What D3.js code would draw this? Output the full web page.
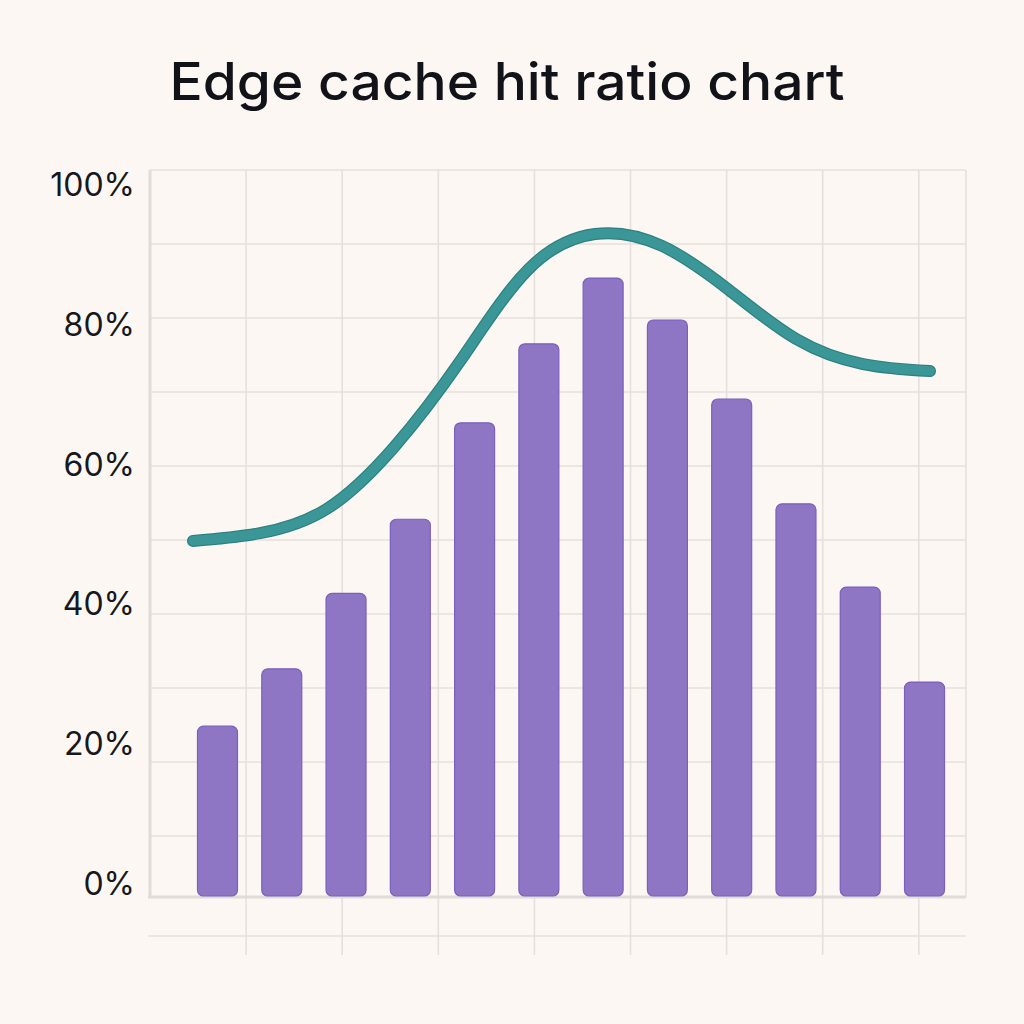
<!DOCTYPE html>
<html>
<head>
<meta charset="utf-8">
<script src="https://cdn.jsdelivr.net/npm/d3@7"></script>
<style>
  body { margin: 0; background: #fcf7f3; }
  svg { display: block; }
</style>
</head>
<body>
<script>
// chart data
var title = "Edge cache hit ratio chart";
var periods = ["P1", "P2", "P3", "P4", "P5", "P6", "P7", "P8", "P9", "P10", "P11", "P12"];
var barValues = [24.3, 32.5, 43.3, 53.9, 67.7, 79.0, 88.4, 82.4, 71.1, 56.1, 44.2, 30.6];
var lineValues = [50.8, 51.9, 55.4, 64.2, 76.7, 89.6, 94.7, 93.0, 86.7, 79.7, 76.1, 75.1];
var yTicks = [0, 20, 40, 60, 80, 100];

var svgWidth = 1024, svgHeight = 1024;
var plot = {left: 150, right: 966, top: 170, bottom: 897};

var svg = d3.select("body").append("svg")
    .attr("width", svgWidth)
    .attr("height", svgHeight);

svg.append("rect")
    .attr("width", svgWidth)
    .attr("height", svgHeight)
    .attr("fill", "#fcf7f3");

var y = d3.scaleLinear().domain([0, 100]).range([896, 197]);

var x = d3.scaleBand()
    .domain(periods)
    .range([185.35, 956.65])
    .paddingInner(0.378)
    .paddingOuter(0.189);

// line runs a bit wider than the bars
var xLine = d3.scalePoint().domain(periods).range([193, 930]);

// decorative grid
var gridColor = "#e6e0dc";
var grid = svg.append("g");

var rows = d3.range(0, 10).map(function(i) { return plot.top + i * 74; });
grid.selectAll(".hgrid")
    .data(rows)
    .enter().append("line")
    .attr("x1", plot.left).attr("x2", plot.right)
    .attr("y1", function(d) { return d; })
    .attr("y2", function(d) { return d; })
    .attr("stroke", gridColor)
    .attr("stroke-width", 1.6);

var cols = d3.range(1, 9).map(function(i) { return plot.left + i * 96.1; });
grid.selectAll(".vgrid")
    .data(cols)
    .enter().append("line")
    .attr("x1", function(d) { return d; })
    .attr("x2", function(d) { return d; })
    .attr("y1", plot.top).attr("y2", 955)
    .attr("stroke", gridColor)
    .attr("stroke-width", 1.6);

// right border
grid.append("line")
    .attr("x1", plot.right).attr("x2", plot.right)
    .attr("y1", plot.top).attr("y2", plot.bottom)
    .attr("stroke", gridColor).attr("stroke-width", 1.6);

// lower line below axis
grid.append("line")
    .attr("x1", 148).attr("x2", plot.right)
    .attr("y1", 936).attr("y2", 936)
    .attr("stroke", gridColor).attr("stroke-width", 1.6);

// axes lines
grid.append("line")
    .attr("x1", plot.left).attr("x2", plot.left)
    .attr("y1", plot.top).attr("y2", plot.bottom)
    .attr("stroke", "#e2dcd8").attr("stroke-width", 3);
grid.append("line")
    .attr("x1", 148).attr("x2", plot.right)
    .attr("y1", plot.bottom).attr("y2", plot.bottom)
    .attr("stroke", "#e2dcd8").attr("stroke-width", 3);

// y tick labels
svg.append("g").selectAll("text")
    .data(yTicks)
    .enter().append("text")
    .attr("x", 135)
    .attr("y", function(d) { return y(d) - 1; })
    .attr("text-anchor", "end")
    .attr("font-family", "Inter, 'Noto Sans', sans-serif")
    .attr("font-size", 32)
    .attr("fill", "#16181d")
    .text(function(d) { return d + "%"; });

// bars
svg.append("g").selectAll("rect")
    .data(barValues)
    .enter().append("rect")
    .attr("x", function(d, i) { return x(periods[i]); })
    .attr("y", function(d) { return y(d); })
    .attr("width", x.bandwidth())
    .attr("height", function(d) { return y(0) - y(d); })
    .attr("rx", 6)
    .attr("fill", "#8e76c4")
    .attr("stroke", "#7a5fbf")
    .attr("stroke-width", 1.2);

// trend line
var valueline = d3.line()
    .x(function(d, i) { return xLine(periods[i]); })
    .y(function(d) { return y(d); })
    .curve(d3.curveNatural);

svg.append("path")
    .datum(lineValues)
    .attr("d", valueline)
    .attr("fill", "none")
    .attr("stroke", "#2c8080")
    .attr("stroke-width", 12)
    .attr("stroke-linecap", "round");

svg.append("path")
    .datum(lineValues)
    .attr("d", valueline)
    .attr("fill", "none")
    .attr("stroke", "#3b9797")
    .attr("stroke-width", 9.6)
    .attr("stroke-linecap", "round");

// title
var t = svg.append("text")
    .attr("x", 507)
    .attr("y", 100)
    .attr("text-anchor", "middle")
    .attr("font-family", "Inter, 'Noto Sans', sans-serif")
    .attr("font-weight", 500)
    .attr("font-size", 52)
    .attr("fill", "#111318")
    .text(title);

var tw = t.node().getComputedTextLength();
if (Math.abs(tw - 675) > 10) {
  t.attr("textLength", 675).attr("lengthAdjust", "spacingAndGlyphs");
}
</script>
</body>
</html>
